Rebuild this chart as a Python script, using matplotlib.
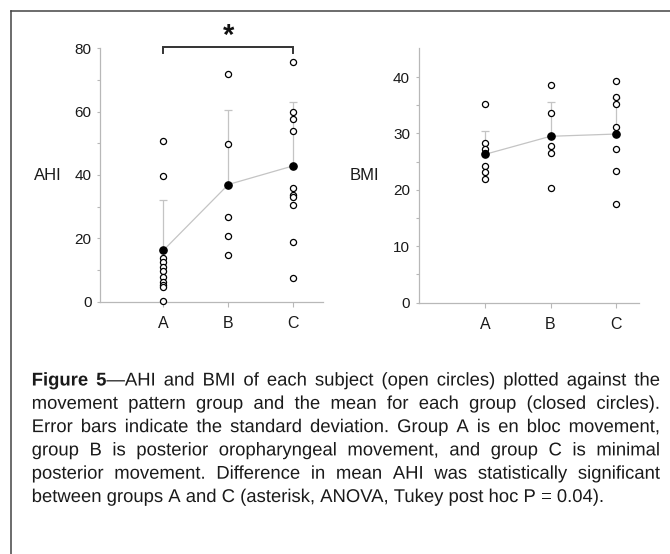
import matplotlib
matplotlib.use("Agg")
from matplotlib import pyplot as plt
from matplotlib.lines import Line2D
from matplotlib.textpath import TextPath, TextToPath
from matplotlib.patches import PathPatch
from matplotlib.font_manager import FontProperties
from matplotlib.transforms import Affine2D

# values
groups = ["A", "B", "C"]

ahi_a = [50.8, 39.8, 13.7, 12.4, 11.0, 9.8, 7.9, 6.3, 5.3, 4.7, 0.3]
ahi_b = [71.8, 49.9, 26.7, 20.7, 14.7]
ahi_c = [75.8, 59.8, 57.6, 53.8, 35.8, 33.8, 33.0, 30.5, 18.8, 7.6]
ahi_mean = [16.2, 37.0, 42.9]
ahi_sd = [15.8, 23.5, 20.3]

bmi_a = [35.2, 28.3, 27.3, 26.6, 24.3, 23.1, 22.0]
bmi_b = [38.6, 33.7, 27.8, 26.5, 20.4]
bmi_c = [39.3, 36.4, 35.3, 31.2, 27.2, 23.4, 17.5]
bmi_mean = [26.3, 29.5, 29.9]
bmi_sd = [4.2, 6.1, 6.4]

caption_lines = [
    [[("Figure", "bold")], [("5", "bold"), ("\u2014AHI", "normal")], "and BMI of each subject (open circles) plotted against the"],
    "movement pattern group and the mean for each group (closed circles).",
    "Error bars indicate the standard deviation. Group A is en bloc movement,",
    "group B is posterior oropharyngeal movement, and group C is minimal",
    "posterior movement. Difference in mean AHI was statistically significant",
    "between groups A and C (asterisk, ANOVA, Tukey post hoc P = 0.04).",
]

W, H = 670, 554
plt.rcParams['font.family'] = ['Liberation Sans', 'DejaVu Sans']
fig = plt.figure(figsize=(W / 100, H / 100), dpi=100)

spine_col = "#b8b8b8"
bar_col = "#c4c4c4"


def panel(rect, xlim, ylim, major, minor, data, mean, sd, label, label_xy):
    ax = fig.add_axes(rect)
    xs = range(1, len(groups) + 1)
    ax.plot(xs, mean, color=bar_col, lw=0.9, zorder=1)
    ax.errorbar(xs, mean, yerr=[[0] * len(sd), sd], fmt="none", ecolor=bar_col,
                elinewidth=0.9, capsize=3, capthick=0.9, zorder=1)
    for x, vals in zip(xs, data):
        ax.plot([x] * len(vals), vals, "o", ms=4.4, mfc="white", mec="black",
                mew=0.9, zorder=3, clip_on=False)
    ax.plot(xs, mean, "o", ms=5.2, color="black", zorder=4, clip_on=False)
    ax.set_xlim(*xlim)
    ax.set_ylim(*ylim)
    ax.set_xticks(list(xs))
    ax.set_xticklabels(groups)
    ax.set_yticks(major)
    ax.set_yticks(minor, minor=True)
    for s in ["top", "right"]:
        ax.spines[s].set_visible(False)
    for s in ["left", "bottom"]:
        ax.spines[s].set_color(spine_col)
        ax.spines[s].set_linewidth(0.9)
    ax.tick_params(axis="y", which="both", length=2.2, width=0.8, color=spine_col,
                   pad=4, labelsize=11, labelcolor="#1a1a1a")
    ax.tick_params(axis="x", length=3.5, width=0.8, color=spine_col, pad=7,
                   labelsize=11.5, labelcolor="#1a1a1a")
    ax.patch.set_alpha(0)
    fig.text(label_xy[0] / W, 1 - label_xy[1] / H, label, fontsize=12,
             ha="center", va="center", color="#1a1a1a")
    return ax


ax1 = panel([100 / W, 1 - 301.7 / H, 223.3 / W, 253.4 / H], (0.026, 3.46), (0, 80),
            [0, 20, 40, 60, 80], [10, 30, 50, 70], [ahi_a, ahi_b, ahi_c],
            ahi_mean, ahi_sd, "AHI", (48, 175))
ax2 = panel([418.7 / W, 1 - 302.7 / H, 220.6 / W, 254.4 / H], (-0.012, 3.355), (0, 45.1),
            [0, 10, 20, 30, 40], [5, 15, 25, 35], [bmi_a, bmi_b, bmi_c],
            bmi_mean, bmi_sd, "BMI", (364, 175))

# significance bracket between A and C
ax1.plot([1, 1, 3, 3], [78.4, 80.4, 80.4, 78.4], color="#333333", lw=1.4,
         clip_on=False, solid_joinstyle="miter")
ax1.text(2, 84.0, "*", fontsize=21, fontweight="bold", ha="center", va="center",
         color="#111111", clip_on=False)

# frame around the figure
fig.add_artist(Line2D([10.5 / W, 10.5 / W], [0, 1 - 10.5 / H], color="#444444", lw=1.1))
fig.add_artist(Line2D([10.5 / W, 1], [1 - 10.5 / H, 1 - 10.5 / H], color="#444444", lw=1.1))

# caption, justified; drawn as text paths so every word sits on one baseline
cap_fs = 13.3
px = 100 / 72
left, right = 31.7, 660.0
baselines = [385.5, 408.8, 432.1, 455.4, 478.7, 502.0]
props = {w: FontProperties(family="Liberation Sans", weight=w, size=cap_fs)
         for w in ["normal", "bold"]}
ttp = TextToPath()


def adv(s, w):
    return ttp.get_text_width_height_descent(s, props[w], ismath=False)[0] * px


space = adv("a a", "normal") - adv("aa", "normal")

for i, line in enumerate(caption_lines):
    words = []
    items = line if isinstance(line, list) else [line]
    for it in items:
        if isinstance(it, str):
            words += [[(w, "normal")] for w in it.split()]
        else:
            words.append(it)
    widths = [[adv(s, w) for s, w in wd] for wd in words]
    total = sum(sum(ws) for ws in widths)
    if i < len(caption_lines) - 1:
        gap = (right - left - total) / (len(words) - 1)
    else:
        gap = space
    x = left
    yb = H - baselines[i]
    for wd, ws in zip(words, widths):
        for (s, w), sw in zip(wd, ws):
            tp = TextPath((0, 0), s, prop=props[w])
            patch = PathPatch(tp, facecolor="#1a1a1a", edgecolor="none", lw=0,
                              transform=Affine2D().scale(px).translate(x, yb))
            fig.add_artist(patch)
            x += sw
        x += gap

fig.savefig("out.png", dpi=100)
